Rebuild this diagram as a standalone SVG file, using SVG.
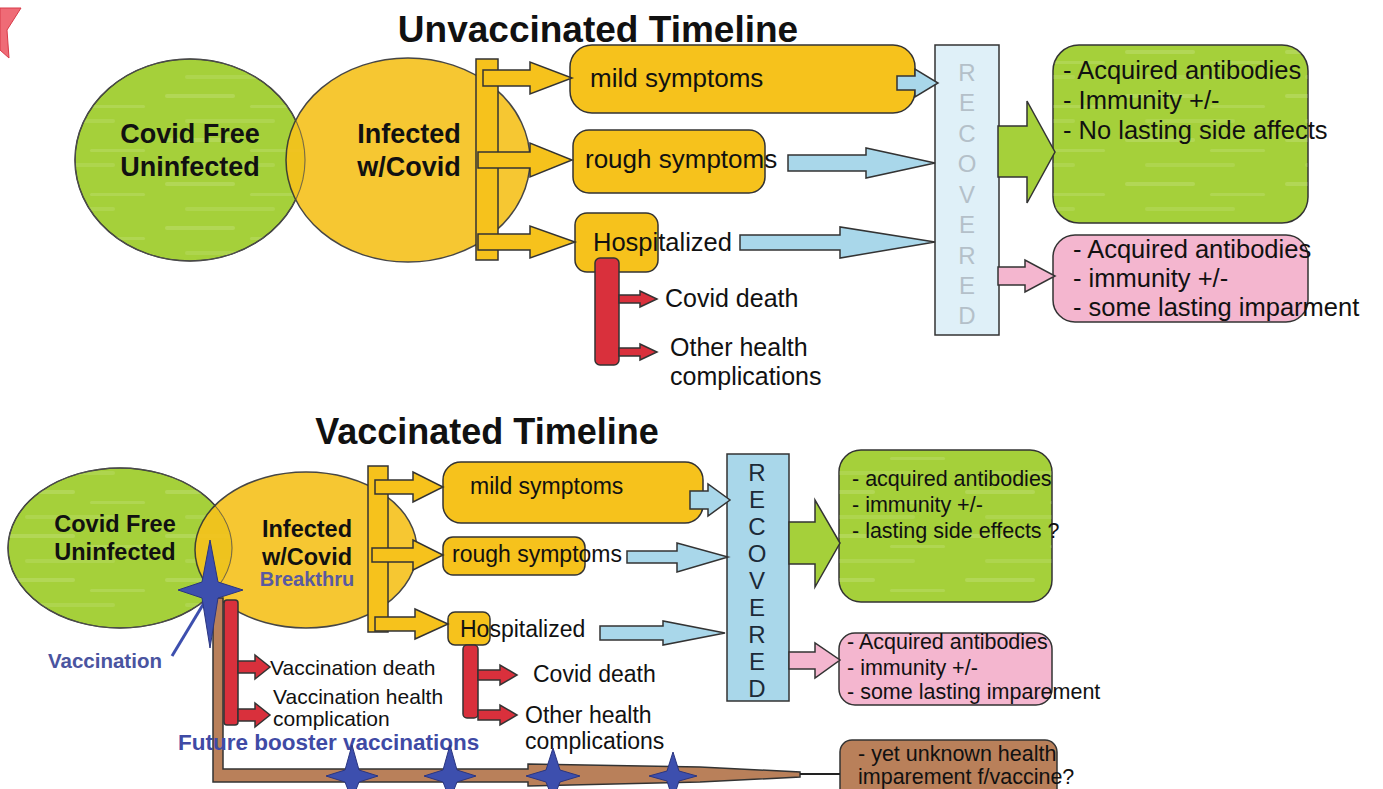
<svg xmlns="http://www.w3.org/2000/svg" width="1383" height="789" viewBox="0 0 1383 789">
<defs>
<style>
.t{font-family:"Liberation Sans",Arial,sans-serif;fill:#111}
.b{font-weight:bold}
.ol{stroke:#333;stroke-width:1.5}
.grn{fill:#a5d03a}
.yel{fill:#f6c21c}
.blu{fill:#a9d7ea}
.pnk{fill:#f4b6cf}
.red{fill:#d9303c}
.brn{fill:#b9805a}
.star{fill:#3d4fae;stroke:#2a3580;stroke-width:1}
</style>
<pattern id="streak" width="160" height="44" patternUnits="userSpaceOnUse">
<rect x="5" y="6" width="70" height="4" rx="2" fill="#fff" opacity="0.14"/>
<rect x="90" y="17" width="55" height="3" rx="1.5" fill="#fff" opacity="0.12"/>
<rect x="25" y="31" width="90" height="4" rx="2" fill="#fff" opacity="0.1"/>
</pattern>
</defs>
<rect width="1383" height="789" fill="#fff"/>
<polygon points="0,8 21,8 7,30 9,58 0,50" fill="#ef6b76" stroke="#d83a48" stroke-width="1"/>

<!-- ===== TOP: Unvaccinated ===== -->
<text class="t b" x="598" y="42" font-size="37" text-anchor="middle">Unvaccinated Timeline</text>

<g id="top-free">
<ellipse cx="190" cy="160" rx="115" ry="101" class="grn ol"/>
<ellipse cx="190" cy="160" rx="115" ry="101" fill="url(#streak)"/>
</g>
<g id="top-infected">
<ellipse cx="408" cy="160" rx="122" ry="102" class="yel" opacity="0.9" stroke="#333" stroke-width="1.5"/>
<ellipse cx="190" cy="160" rx="115" ry="101" fill="none" stroke="#555" stroke-width="0.8"/>
<text class="t b" x="190" y="143" font-size="27" text-anchor="middle">Covid Free</text>
<text class="t b" x="190" y="176" font-size="27" text-anchor="middle">Uninfected</text>
<text class="t b" x="409" y="143" font-size="27" text-anchor="middle">Infected</text>
<text class="t b" x="409" y="176" font-size="27" text-anchor="middle">w/Covid</text>
</g>
<g id="top-bracket"><rect x="476" y="59" width="22" height="201" class="yel ol"/></g>

<g id="top-mild">
<rect x="570" y="45" width="345" height="68" rx="22" class="yel ol"/>
<text class="t" x="590" y="87" font-size="26">mild symptoms</text>
</g>
<g id="top-rough">
<rect x="573" y="130" width="192" height="63" rx="16" class="yel ol"/>
<text class="t" x="585" y="168" font-size="26">rough symptoms</text>
</g>
<g id="top-hosp">
<rect x="575" y="213" width="83" height="59" rx="12" class="yel ol"/>
<text class="t" x="593" y="251" font-size="25.5">Hospitalized</text>
</g>
<g id="top-redbar"><rect x="595" y="258" width="24" height="107" rx="5" class="red ol"/></g>
<g id="top-death"><text class="t" x="665" y="307" font-size="25">Covid death</text></g>
<g id="top-other">
<text class="t" x="670" y="356" font-size="25">Other health</text>
<text class="t" x="670" y="385" font-size="25">complications</text>
</g>
<g id="top-recovered">
<rect x="935" y="45" width="64" height="290" fill="#dff0f8" class="ol"/>
<g class="t" font-size="24" text-anchor="middle" style="fill:#b4c0c9">
<text x="967" y="81">R</text><text x="967" y="111">E</text><text x="967" y="142">C</text>
<text x="967" y="172">O</text><text x="967" y="203">V</text><text x="967" y="233">E</text>
<text x="967" y="264">R</text><text x="967" y="294">E</text><text x="967" y="324">D</text>
</g>
</g>
<g id="top-good">
<rect x="1053" y="45" width="255" height="178" rx="26" class="grn ol"/>
<rect x="1053" y="45" width="255" height="178" rx="26" fill="url(#streak)"/>
<text class="t" x="1063" y="79" font-size="25.5">- Acquired antibodies</text>
<text class="t" x="1063" y="109" font-size="25.5">- Immunity +/-</text>
<text class="t" x="1063" y="139" font-size="25.5">- No lasting side affects</text>
</g>
<g id="top-bad">
<rect x="1053" y="235" width="255" height="87" rx="22" class="pnk ol"/>
<text class="t" x="1073" y="258" font-size="25.5">- Acquired antibodies</text>
<text class="t" x="1073" y="287" font-size="25.5">- immunity +/-</text>
<text class="t" x="1073" y="316" font-size="25.5">- some lasting imparment</text>
</g>

<g id="top-connectors">
<polygon class="yel ol" points="483,70 530,70 530,62 572,78 530,94 530,86 483,86"/>
<polygon class="yel ol" points="478,152 530,152 530,143 572,160 530,177 530,168 478,168"/>
<polygon class="yel ol" points="478,234 530,234 530,226 575,242 530,258 530,250 478,250"/>
<polygon class="blu ol" points="897,76 915,76 915,69 938,83 915,97 915,90 897,90"/>
<polygon class="blu ol" points="788,155 866,155 866,148 935,163 866,178 866,171 788,171"/>
<polygon class="blu ol" points="740,235 840,235 840,227 935,242 840,258 840,250 740,250"/>
<polygon class="grn ol" points="998,126 1027,126 1027,101 1055,152 1027,203 1027,177 998,177"/>
<polygon class="pnk ol" points="998,267 1025,267 1025,260 1055,276 1025,292 1025,285 998,285"/>
<polygon class="red ol" points="619,295 640,295 640,291 657,299 640,307 640,303 619,303"/>
<polygon class="red ol" points="619,348 640,348 640,344 657,352 640,360 640,356 619,356"/>
</g>

<!-- ===== BOTTOM: Vaccinated ===== -->
<text class="t b" x="487" y="444" font-size="36" text-anchor="middle">Vaccinated Timeline</text>

<g id="bot-free">
<ellipse cx="120" cy="548" rx="112" ry="80" class="grn ol"/>
<ellipse cx="120" cy="548" rx="112" ry="80" fill="url(#streak)"/>
</g>
<g id="bot-infected">
<ellipse cx="306" cy="550" rx="111" ry="78" class="yel" opacity="0.9" stroke="#333" stroke-width="1.5"/>
<ellipse cx="120" cy="548" rx="112" ry="80" fill="none" stroke="#555" stroke-width="0.8"/>
<text class="t b" x="115" y="532" font-size="23.5" text-anchor="middle">Covid Free</text>
<text class="t b" x="115" y="560" font-size="23.5" text-anchor="middle">Uninfected</text>
<text class="t b" x="307" y="537" font-size="23.5" text-anchor="middle">Infected</text>
<text class="t b" x="307" y="565" font-size="23.5" text-anchor="middle">w/Covid</text>
<text class="t b" x="307" y="586" font-size="20" text-anchor="middle" style="fill:#5a5aa0">Breakthru</text>
</g>
<g id="bot-bracket"><rect x="368" y="466" width="20" height="166" class="yel ol"/></g>

<g id="bot-mild">
<rect x="443" y="462" width="260" height="61" rx="18" class="yel ol"/>
<text class="t" x="470" y="494" font-size="23">mild symptoms</text>
</g>
<g id="bot-rough">
<rect x="443" y="537" width="142" height="38" rx="10" class="yel ol"/>
<text class="t" x="452" y="562" font-size="23">rough symptoms</text>
</g>
<g id="bot-hosp">
<rect x="448" y="612" width="42" height="33" rx="7" class="yel ol"/>
<text class="t" x="460" y="637" font-size="23">Hospitalized</text>
</g>
<g id="bot-redbar"><rect x="463" y="645" width="15" height="73" rx="4" class="red ol"/></g>
<g id="bot-death"><text class="t" x="533" y="682" font-size="23">Covid death</text></g>
<g id="bot-other">
<text class="t" x="525" y="723" font-size="23">Other health</text>
<text class="t" x="525" y="749" font-size="23">complications</text>
</g>
<g id="bot-recovered">
<rect x="727" y="454" width="62" height="247" class="blu ol"/>
<g class="t" font-size="24" text-anchor="middle" style="fill:#1c2a38">
<text x="757" y="481">R</text><text x="757" y="508">E</text><text x="757" y="535">C</text>
<text x="757" y="562">O</text><text x="757" y="589">V</text><text x="757" y="616">E</text>
<text x="757" y="643">R</text><text x="757" y="670">E</text><text x="757" y="697">D</text>
</g>
</g>
<g id="bot-good">
<rect x="839" y="450" width="213" height="152" rx="22" class="grn ol"/>
<rect x="839" y="450" width="213" height="152" rx="22" fill="url(#streak)"/>
<text class="t" x="852" y="486" font-size="21.5">- acquired antibodies</text>
<text class="t" x="852" y="512" font-size="21.5">- immunity +/-</text>
<text class="t" x="852" y="538" font-size="21.5">- lasting side effects ?</text>
</g>
<g id="bot-bad">
<rect x="839" y="633" width="213" height="72" rx="16" class="pnk ol"/>
<text class="t" x="847" y="649" font-size="21.5">- Acquired antibodies</text>
<text class="t" x="847" y="675" font-size="21.5">- immunity +/-</text>
<text class="t" x="847" y="699" font-size="21.5">- some lasting imparement</text>
</g>
<g id="bot-unknown">
<rect x="840" y="740" width="217" height="62" rx="12" class="brn ol"/>
<text class="t" x="858" y="761" font-size="21.5">- yet unknown health</text>
<text class="t" x="858" y="784" font-size="21.5">imparement f/vaccine?</text>
</g>

<g id="bot-vaccination">
<polygon class="brn ol" points="213,598 223,598 223,769 528,769 528,764 700,767 800,772 800,777 700,782 528,786 528,782 213,782"/>
<line x1="800" y1="774" x2="840" y2="774" stroke="#222" stroke-width="2"/>
<rect x="224" y="600" width="14" height="125" rx="3" class="red ol"/>
<line x1="172" y1="656" x2="207" y2="598" stroke="#3d4fae" stroke-width="3"/>
<path class="star" d="M210,540 L218,582 L243,590 L218,598 L210,648 L202,598 L178,590 L202,582 Z"/>
<text class="t b" x="48" y="668" font-size="20.5" style="fill:#4a54a0">Vaccination</text>
<text class="t" x="270" y="675" font-size="21">Vaccination death</text>
<text class="t" x="273" y="704" font-size="21">Vaccination health</text>
<text class="t" x="273" y="726" font-size="21">complication</text>
<text class="t b" x="178" y="750" font-size="22.5" style="fill:#3f4aa5">Future booster vaccinations</text>
<path class="star" d="M352,745 L359,770 L378,776 L359,782 L352,800 L345,782 L326,776 L345,770 Z"/>
<path class="star" d="M450,745 L457,770 L476,776 L457,782 L450,800 L443,782 L424,776 L443,770 Z"/>
<path class="star" d="M553,748 L560,770 L580,776 L560,782 L553,800 L546,782 L526,776 L546,770 Z"/>
<path class="star" d="M673,752 L679,771 L697,776 L679,781 L673,800 L667,781 L649,776 L667,771 Z"/>
</g>

<g id="bot-connectors">
<polygon class="yel ol" points="375,480 413,480 413,472 443,487 413,502 413,494 375,494"/>
<polygon class="yel ol" points="372,548 413,548 413,540 443,555 413,570 413,562 372,562"/>
<polygon class="yel ol" points="375,617 415,617 415,609 448,624 415,639 415,631 375,631"/>
<polygon class="blu ol" points="690,491 708,491 708,484 730,500 708,516 708,509 690,509"/>
<polygon class="blu ol" points="627,551 677,551 677,543 728,557 677,572 677,563 627,563"/>
<polygon class="blu ol" points="600,626 663,626 663,621 725,633 663,645 663,640 600,640"/>
<polygon class="grn ol" points="789,522 815,522 815,500 840,543 815,587 815,564 789,564"/>
<polygon class="pnk ol" points="789,652 815,652 815,643 840,660 815,678 815,669 789,669"/>
<polygon class="red ol" points="238,661 255,661 255,655 270,667 255,679 255,673 238,673"/>
<polygon class="red ol" points="238,709 255,709 255,703 270,715 255,727 255,721 238,721"/>
<polygon class="red ol" points="478,670 500,670 500,665 517,675 500,685 500,680 478,680"/>
<polygon class="red ol" points="478,710 500,710 500,705 517,715 500,725 500,720 478,720"/>
</g>
</svg>
